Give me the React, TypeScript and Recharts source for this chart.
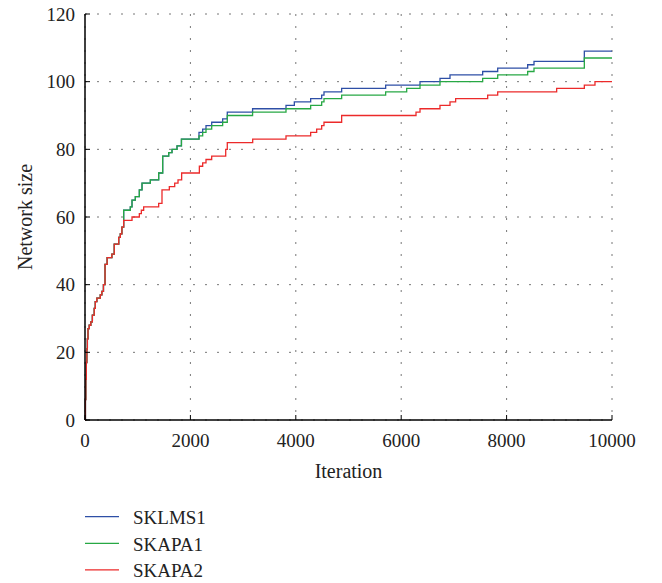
import React from 'react';
import { LineChart, Line, XAxis, YAxis, CartesianGrid, Legend } from 'recharts';

const xTicks = [0, 2000, 4000, 6000, 8000, 10000];
const yTicks = [0, 20, 40, 60, 80, 100, 120];

const seriesNames = ['SKLMS1', 'SKAPA1', 'SKAPA2'];
const seriesColors = ['#2e4fa6', '#27a844', '#ec2a2a'];

// shared start of all three runs
const earlyIter = [0, 8, 15, 25, 35, 45, 57, 80, 110, 140, 175, 195, 225, 290, 320, 350, 380, 420, 510, 555, 640, 670, 700];
const earlySize = [0, 6, 12, 17, 21, 24, 27, 28, 29, 31, 33, 35, 36, 37, 38, 40, 46, 48, 49, 52, 54, 55, 57];

const sklms1Iter = [734, 860, 892, 955, 1031, 1082, 1240, 1398, 1474, 1588, 1651, 1746, 1830, 2163, 2233, 2296, 2404, 2612, 2700, 3180, 3814, 3972, 4282, 4491, 4535, 4870, 5705, 6357, 6736, 6926, 7546, 7831, 8400, 8520, 9475, 10000];
const sklms1Size = [62, 63, 65, 66, 68, 70, 71, 73, 78, 79, 80, 81, 83, 85, 86, 87, 88, 89, 91, 92, 93, 94, 95, 96, 97, 98, 99, 100, 101, 102, 103, 104, 105, 106, 109, 109];

const skapa1Iter = [734, 860, 892, 955, 1031, 1082, 1240, 1398, 1474, 1588, 1651, 1746, 1830, 2163, 2233, 2296, 2404, 2612, 2700, 3180, 3814, 4282, 4491, 4535, 4870, 5705, 6104, 6357, 6736, 7546, 7831, 8400, 8520, 9475, 10000];
const skapa1Size = [62, 63, 65, 66, 68, 70, 71, 73, 78, 79, 80, 81, 83, 84, 85, 86, 87, 88, 90, 91, 92, 93, 94, 95, 96, 97, 98, 99, 100, 101, 102, 103, 104, 107, 107];

const skapa2Iter = [734, 892, 1031, 1069, 1113, 1398, 1461, 1600, 1702, 1765, 1834, 2170, 2233, 2296, 2404, 2670, 2700, 3182, 3814, 4282, 4396, 4491, 4535, 4870, 6281, 6357, 6736, 6926, 7033, 7641, 7831, 8950, 9475, 9677, 10000];
const skapa2Size = [59, 60, 61, 62, 63, 64, 68, 69, 70, 71, 73, 75, 76, 77, 78, 80, 82, 83, 84, 85, 86, 87, 88, 90, 91, 92, 93, 94, 95, 96, 97, 98, 99, 100, 100];

const build = (iters: number[], sizes: number[]) => {
  const all = earlyIter.concat(iters);
  const vals = earlySize.concat(sizes);
  return all.map((x, i) => ({ x, y: vals[i] }));
};

const seriesData = [
  build(sklms1Iter, sklms1Size),
  build(skapa1Iter, skapa1Size),
  build(skapa2Iter, skapa2Size),
];

const FONT = '"Liberation Serif", "DejaVu Serif", serif';

const renderLegend = () => (
  <svg width={300} height={90} style={{ position: 'absolute', left: 0, top: 500, overflow: 'visible' }}>
    {seriesNames.map((name, i) => {
      const y = 16.7 + i * 26.6;
      return (
        <g key={name}>
          <line x1={85} x2={119} y1={y} y2={y} stroke={seriesColors[i]} strokeWidth={1.3} />
          <text x={133} y={y + 7.5} fontSize={19} fontFamily={FONT} fill="#222">{name}</text>
        </g>
      );
    })}
  </svg>
);

export default function App() {
  return (
    <div style={{ position: 'absolute', left: 0, top: 0, width: 662, height: 583, background: '#fff' }}>
      <LineChart width={662} height={583} margin={{ top: 14, right: 50, bottom: 93, left: 0 }}>
        <CartesianGrid stroke="#777" strokeDasharray="2 10" />
        <XAxis
          dataKey="x"
          type="number"
          domain={[0, 10000]}
          ticks={xTicks}
          height={70}
          tickSize={-5}
          tickMargin={19}
          stroke="#000"
          axisLine={{ stroke: '#000', strokeWidth: 1.5 }}
          tick={{ fill: '#222', fontSize: 19, fontFamily: FONT }}
          label={{ value: 'Iteration', position: 'insideBottom', offset: 12, fill: '#222', fontSize: 20, fontFamily: FONT }}
        />
        <XAxis
          xAxisId="top"
          orientation="top"
          dataKey="x"
          type="number"
          domain={[0, 10000]}
          ticks={xTicks}
          height={0}
          tickSize={-5}
          stroke="#000"
          axisLine={{ stroke: '#000', strokeWidth: 1.5 }}
          tickFormatter={() => ''}
        />
        <YAxis
          type="number"
          domain={[0, 120]}
          ticks={yTicks}
          width={85}
          tickSize={-5}
          tickMargin={15}
          stroke="#000"
          axisLine={{ stroke: '#000', strokeWidth: 1.5 }}
          tick={{ fill: '#222', fontSize: 19, fontFamily: FONT }}
          label={{ value: 'Network size', angle: -90, position: 'insideLeft', offset: 25, fill: '#222', fontSize: 20, fontFamily: FONT, style: { textAnchor: 'middle' } }}
        />
        <YAxis
          yAxisId="right"
          orientation="right"
          type="number"
          domain={[0, 120]}
          ticks={yTicks}
          width={0}
          tickSize={-5}
          stroke="#000"
          axisLine={{ stroke: '#000', strokeWidth: 1.5 }}
          tickFormatter={() => ''}
        />
        {seriesData.map((d, i) => (
          <Line
            key={seriesNames[i]}
            data={d}
            dataKey="y"
            name={seriesNames[i]}
            type="stepAfter"
            stroke={seriesColors[i]}
            strokeWidth={1.3}
            dot={false}
            activeDot={false}
            isAnimationActive={false}
          />
        ))}
        <Legend
          content={renderLegend}
          verticalAlign="bottom"
          wrapperStyle={{ position: 'absolute', left: 0, top: 0, width: 300, height: 0, overflow: 'visible' }}
        />
      </LineChart>
    </div>
  );
}
